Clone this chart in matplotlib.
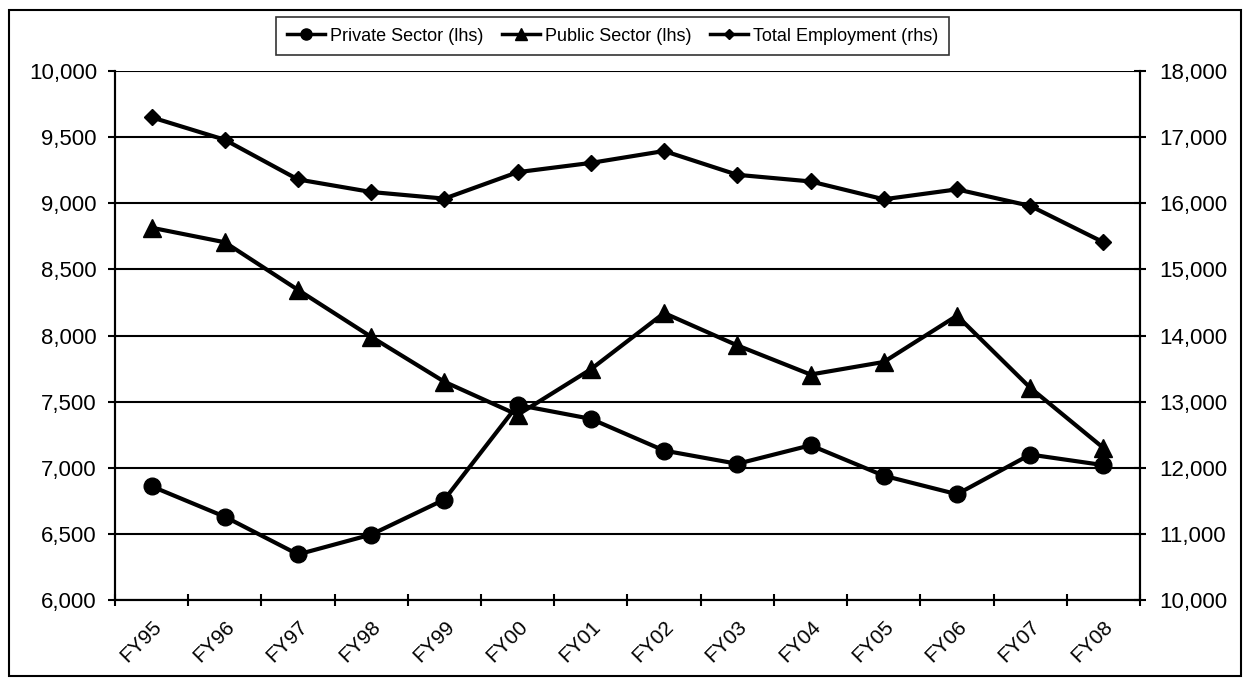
import matplotlib.pyplot as plt
import matplotlib.ticker as mticker
from matplotlib.patches import Rectangle
from matplotlib.lines import Line2D
import numpy as np

plt.rcParams['font.family'] = ['Liberation Sans', 'DejaVu Sans']

# Data
years = ['FY95', 'FY96', 'FY97', 'FY98', 'FY99', 'FY00', 'FY01',
         'FY02', 'FY03', 'FY04', 'FY05', 'FY06', 'FY07', 'FY08']
private_sector = [6860, 6630, 6345, 6495, 6760, 7475, 7370,
                  7130, 7030, 7170, 6940, 6800, 7100, 7020]
public_sector = [8815, 8705, 8345, 7990, 7650, 7400, 7745,
                 8170, 7925, 7705, 7800, 8150, 7605, 7150]
total_employment = [17300, 16960, 16360, 16170, 16070, 16470, 16610,
                    16790, 16430, 16330, 16060, 16210, 15960, 15410]

fig = plt.figure(figsize=(12.48, 6.8), dpi=100)
ax = fig.add_axes([0.0921, 0.1176, 0.8214, 0.778])
ax2 = ax.twinx()

x = np.arange(len(years))

ax.plot(x, private_sector, color='black', lw=3, marker='o', markersize=12,
        label='Private Sector (lhs)', zorder=3)
ax.plot(x, public_sector, color='black', lw=3, marker='^', markersize=13,
        label='Public Sector (lhs)', zorder=3)
ax2.plot(x, total_employment, color='black', lw=3, marker='D', markersize=8,
         label='Total Employment (rhs)', zorder=3)

# axes ranges
ax.set_xlim(-0.5, len(years) - 0.5)
ax.set_ylim(6000, 10000)
ax2.set_ylim(10000, 18000)
ax.set_yticks(np.arange(6000, 10001, 500))
ax2.set_yticks(np.arange(10000, 18001, 1000))
fmt = mticker.FuncFormatter(lambda v, p: f'{v:,.0f}')
ax.yaxis.set_major_formatter(fmt)
ax2.yaxis.set_major_formatter(fmt)

# category labels in the middle, tick marks on the boundaries
ax.set_xticks(x)
ax.set_xticklabels(years, rotation=45, ha='right', rotation_mode='anchor')
ax.set_xticks(np.arange(-0.5, len(years)), minor=True)
ax.tick_params(axis='x', which='major', length=0, pad=12, labelsize=15)
ax.tick_params(axis='x', which='minor', length=9, width=1.5, direction='inout')
ax.tick_params(axis='y', length=5, width=1.5, direction='out', pad=8, labelsize=16)
ax2.tick_params(axis='y', length=9, width=1.5, direction='inout', pad=9, labelsize=16)

ax.grid(axis='y', color='black', lw=1.5)
ax.set_axisbelow(True)

for a in (ax, ax2):
    for s in a.spines.values():
        s.set_linewidth(1.5)
ax.spines['top'].set_visible(False)
ax2.spines['top'].set_visible(False)

# legend
handles = [
    Line2D([], [], color='black', lw=2.5, marker='o', markersize=8),
    Line2D([], [], color='black', lw=2.5, marker='^', markersize=8),
    Line2D([], [], color='black', lw=2.5, marker='D', markersize=5),
]
labels = ['Private Sector (lhs)', 'Public Sector (lhs)', 'Total Employment (rhs)']
leg = fig.legend(handles, labels, loc='center', bbox_to_anchor=(0.491, 0.947),
                 ncol=3, fontsize=13, frameon=True, fancybox=False,
                 edgecolor='black', handlelength=2.1, handletextpad=0.3,
                 columnspacing=1.0, borderpad=0.6)
leg.get_frame().set_linewidth(1.2)

# outer frame around the whole chart
fig.patches.append(Rectangle((0.007, 0.006), 0.987, 0.98, transform=fig.transFigure,
                             fill=False, edgecolor='black', lw=1.5))

plt.savefig('out.png', dpi=100)
